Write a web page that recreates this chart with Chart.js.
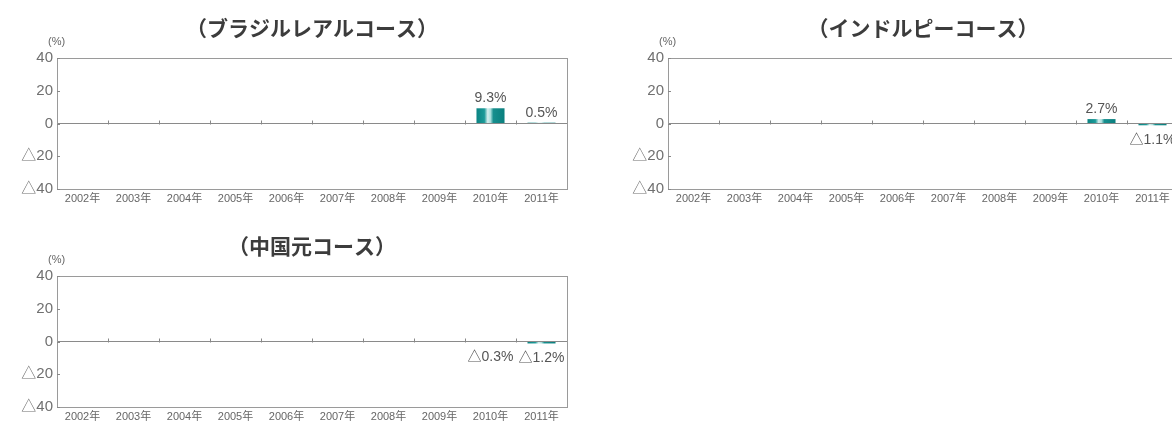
<!DOCTYPE html>
<html><head><meta charset="utf-8">
<script src="https://cdn.jsdelivr.net/npm/chart.js@4.4.1/dist/chart.umd.min.js"></script>
<style>
html,body{margin:0;padding:0;background:#fff;width:1172px;height:428px;overflow:hidden;position:relative;}
.box{position:absolute;width:580px;height:210px;}
</style></head>
<body>
<div class="box" style="left:0;top:0"><canvas id="c1"></canvas></div>
<div class="box" style="left:611px;top:0"><canvas id="c2"></canvas></div>
<div class="box" style="left:0;top:218px"><canvas id="c3"></canvas></div>
<script>
const years = ['2002年','2003年','2004年','2005年','2006年','2007年','2008年','2009年','2010年','2011年'];
const brazilValues = [null,null,null,null,null,null,null,null,9.3,0.5];
const indiaValues  = [null,null,null,null,null,null,null,null,2.7,-1.1];
const chinaValues  = [null,null,null,null,null,null,null,null,-0.3,-1.2];
const titleBrazil = '（ブラジルレアルコース）';
const titleIndia  = '（インドルピーコース）';
const titleChina  = '（中国元コース）';
const unitLabel = '(%)';
const yTicks = [-40,-20,0,20,40];

const FONT = '"Liberation Sans", "Noto Sans CJK JP", sans-serif';
const BAR_PCT = 0.55;

function barFill(ctx){
  const chart = ctx.chart;
  const xs = chart.scales.x;
  if (ctx.type !== 'data' || !xs || !chart.chartArea) return '#128b8a';
  const cx = xs.getPixelForValue(ctx.dataIndex);
  const w = (xs.getPixelForValue(1) - xs.getPixelForValue(0)) * BAR_PCT;
  const g = chart.ctx.createLinearGradient(cx - w/2, 0, cx + w/2, 0);
  g.addColorStop(0, '#0b8483');
  g.addColorStop(0.28, '#1b9a98');
  g.addColorStop(0.40, '#d6efee');
  g.addColorStop(0.50, '#a9dedc');
  g.addColorStop(0.60, '#178f8e');
  g.addColorStop(1, '#0a7f7e');
  return g;
}

const decorPlugin = {
  id: 'decor',
  afterDatasetsDraw(chart){
    const c = chart.ctx, a = chart.chartArea;
    const xs = chart.scales.x, ys = chart.scales.y;
    c.save();
    // frame
    c.strokeStyle = '#9a9a9a'; c.lineWidth = 1;
    c.strokeRect(Math.round(a.left)+0.5, Math.round(a.top)+0.5, Math.round(a.right-a.left), Math.round(a.bottom-a.top));
    // small inward ticks on the y axis
    c.strokeStyle = '#888';
    ys.ticks.forEach(t => {
      const y = Math.round(ys.getPixelForValue(t.value)) + 0.5;
      c.beginPath(); c.moveTo(a.left, y); c.lineTo(a.left + 3, y); c.stroke();
    });
    // small ticks on zero line at category boundaries
    const y0 = Math.round(ys.getPixelForValue(0)) + 0.5;
    for (let i = 1; i < years.length; i++){
      const x = Math.round((xs.getPixelForValue(i-1) + xs.getPixelForValue(i)) / 2) + 0.5;
      c.beginPath(); c.moveTo(x, y0); c.lineTo(x, y0 - 4); c.stroke();
    }
    // value labels
    c.fillStyle = '#555';
    c.font = '14px ' + FONT;
    c.textAlign = 'center';
    const meta = chart.getDatasetMeta(0);
    const data = chart.data.datasets[0].data;
    meta.data.forEach((bar, i) => {
      const v = data[i];
      if (v === null || v === undefined) return;
      const txt = (v < 0 ? '△' + Math.abs(v).toFixed(1) : v.toFixed(1)) + '%';
      if (v >= 0){
        c.textBaseline = 'bottom';
        c.fillText(txt, bar.x, Math.min(bar.y, y0) - 3);
      } else {
        c.textBaseline = 'top';
        c.fillText(txt, bar.x, Math.max(bar.y, y0) + 8);
      }
    });
    // unit label
    c.font = '11px ' + FONT;
    c.fillStyle = '#666';
    c.textAlign = 'left';
    c.textBaseline = 'middle';
    c.fillText(unitLabel, a.left - 9, a.top - 16);
    c.restore();
  }
};

function makeChart(id, title, values){
  return new Chart(document.getElementById(id), {
    type: 'bar',
    data: { labels: years, datasets: [{ data: values, backgroundColor: barFill, borderWidth: 0,
      barPercentage: BAR_PCT, categoryPercentage: 1.0 }] },
    options: {
      responsive: true, maintainAspectRatio: false, animation: false,
      layout: { padding: { left: 0, right: 13, top: 0, bottom: 0 } },
      plugins: {
        legend: { display: false }, tooltip: { enabled: false },
        title: { display: true, text: title, fullSize: false, align: 'center',
          color: '#3c3c3c', font: { family: '"Noto Sans CJK JP", sans-serif', size: 21, weight: 'bold', lineHeight: 1.2 },
          padding: { top: 15, bottom: 17.8 } }
      },
      scales: {
        x: {
          grid: { display: false, drawTicks: false }, border: { display: false },
          ticks: { color: '#666', font: { family: FONT, size: 11 }, padding: 3, maxRotation: 0, autoSkip: false },
          afterFit(s){ s.height = 21; }
        },
        y: {
          min: -40, max: 40,
          afterBuildTicks(s){ s.ticks = yTicks.map(v => ({ value: v })); },
          border: { display: false },
          grid: { color: c => (c.tick && c.tick.value === 0) ? '#8a8a8a' : 'transparent', drawTicks: false },
          ticks: { color: '#707070', font: { family: FONT, size: 15 }, padding: 4,
                   callback: v => v < 0 ? '△' + Math.abs(v) : String(v) },
          afterFit(s){ s.width = 57; }
        }
      }
    },
    plugins: [decorPlugin]
  });
}

makeChart('c1', titleBrazil, brazilValues);
makeChart('c2', titleIndia, indiaValues);
makeChart('c3', titleChina, chinaValues);
</script>
</body></html>
